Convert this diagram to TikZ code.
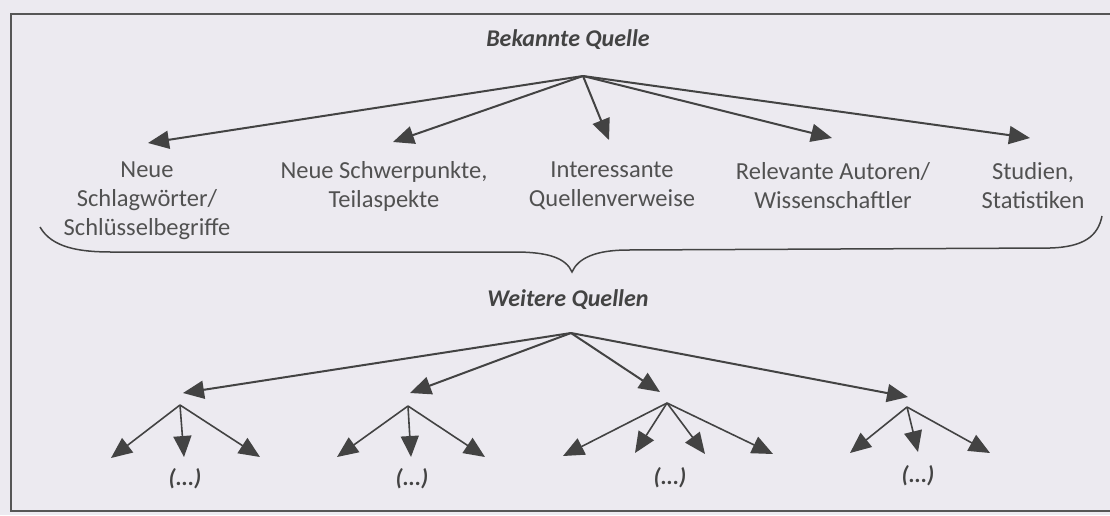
\documentclass[tikz,border=0pt]{standalone}
\usepackage{fontspec}
\setmainfont{Carlito}
\usetikzlibrary{arrows.meta}
\definecolor{bg}{HTML}{ECEAF0}
\definecolor{ink}{HTML}{434343}
\definecolor{txt}{HTML}{515151}
\begin{document}
\begin{tikzpicture}[x=1pt,y=-1pt,
  arr/.style={draw=ink, line width=2pt, -{Triangle[length=21pt,width=18pt]}},
  sub/.style={draw=ink, line width=1.6pt, -{Triangle[length=21pt,width=18pt]}},
  lbl/.style={text=txt, font=\fontsize{24.5}{29}\selectfont, align=center, inner sep=0pt},
  head/.style={text=ink, font=\fontsize{24}{29}\selectfont\bfseries\itshape, inner sep=0pt},
  dots/.style={text=ink, font=\fontsize{23}{27}\selectfont\bfseries\itshape, inner sep=0pt}]
\fill[bg] (0,0) rectangle (1110,515);
\useasboundingbox (0,0) rectangle (1110,515);
\draw[ink!90, line width=1.6pt] (1110,14) -- (11,14) -- (11,511) -- (1110,511);

% headings
\node[head] (bq) at (568,40) {Bekannte Quelle};
\node[head] (wq) at (568,300) {Weitere Quellen};

% level 1 labels
\node[lbl] (l1) at (147,201) {Neue\\Schlagwörter/\\Schlüsselbegriffe};
\node[lbl] (l2) at (384,186) {Neue Schwerpunkte,\\Teilaspekte};
\node[lbl] (l3) at (612,186) {Interessante\\Quellenverweise};
\node[lbl] (l4) at (833,186) {Relevante Autoren/\\Wissenschaftler};
\node[lbl] (l5) at (1033,186) {Studien,\\Statistiken};

% top arrows
\coordinate (ta) at (583,76);
\coordinate (t1) at (148,143);
\coordinate (t2) at (393,142);
\coordinate (t3) at (609,140);
\coordinate (t4) at (832,138);
\coordinate (t5) at (1030,138);
\foreach \i in {1,...,5} \draw[arr] (ta) -- (t\i);

% brace
\coordinate (bl) at (40,227);
\coordinate (bt) at (572,272);
\coordinate (br) at (1102,216);
\draw[ink, line width=1.5pt] (bl) .. controls (52,248) and (80,252) .. (112,252)
  -- (515,252) .. controls (548,252) and (566,258) .. (bt)
  .. controls (578,258) and (596,250) .. (628,250)
  -- (1050,248) .. controls (1084,247) and (1098,236) .. (br);

% level 2
\coordinate (wa) at (571,333);
\coordinate (a) at (183,393);
\coordinate (b) at (410,393);
\coordinate (c) at (660,392);
\coordinate (d) at (908,397);
\foreach \p in {a,b,c,d} \draw[arr] (wa) -- (\p);

% level 3 subtrees
\coordinate (A) at (180,405);
\coordinate (B) at (408,406);
\coordinate (C) at (667,403);
\coordinate (D) at (907,407);
\coordinate (A1) at (111,458); \coordinate (A2) at (184,457); \coordinate (A3) at (260,457);
\coordinate (B1) at (337,457); \coordinate (B2) at (411,457); \coordinate (B3) at (485,457);
\coordinate (C1) at (563,456); \coordinate (C2) at (635,453); \coordinate (C3) at (705,454); \coordinate (C4) at (773,454);
\coordinate (D1) at (850,453); \coordinate (D2) at (918,452); \coordinate (D3) at (990,453);
\foreach \q in {A1,A2,A3} \draw[sub] (A) -- (\q);
\foreach \q in {B1,B2,B3} \draw[sub] (B) -- (\q);
\foreach \q in {C1,C2,C3,C4} \draw[sub] (C) -- (\q);
\foreach \q in {D1,D2,D3} \draw[sub] (D) -- (\q);

\node[dots] (dA) at (185,479) {(...)};
\node[dots] (dB) at (412,479) {(...)};
\node[dots] (dC) at (670,478) {(...)};
\node[dots] (dD) at (918,476) {(...)};
\end{tikzpicture}
\end{document}
